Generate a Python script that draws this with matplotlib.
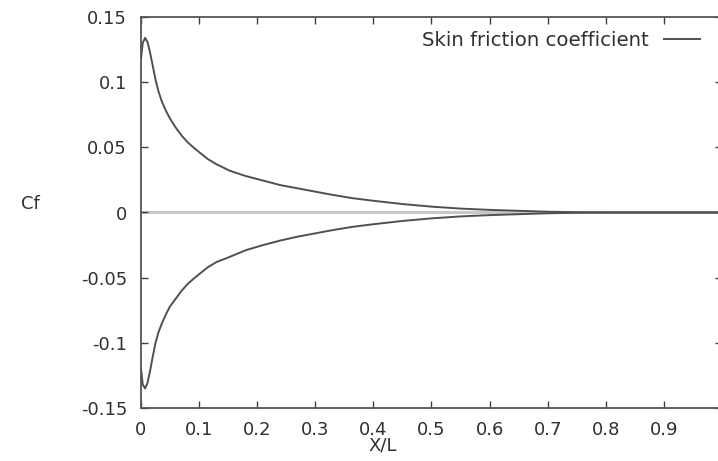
import matplotlib
matplotlib.use("Agg")
import matplotlib.pyplot as plt

# skin friction coefficient (upper and lower surface)
x_upper = [0.0, 0.003, 0.007, 0.011, 0.015, 0.02, 0.025, 0.03, 0.036, 0.043, 0.05, 0.06, 0.07,
           0.08, 0.09, 0.101, 0.115, 0.13, 0.153, 0.18, 0.21, 0.24, 0.27, 0.3, 0.33, 0.364,
           0.4, 0.45, 0.5, 0.55, 0.6, 0.65, 0.7, 0.75, 0.8, 0.9, 1.0]
cf_upper = [0.118, 0.130, 0.134, 0.131, 0.124, 0.113, 0.102, 0.093, 0.085, 0.078, 0.072, 0.065, 0.059,
            0.054, 0.050, 0.046, 0.041, 0.037, 0.032, 0.028, 0.0245, 0.021, 0.0185, 0.016, 0.0135, 0.011,
            0.009, 0.0065, 0.0045, 0.003, 0.002, 0.0013, 0.0006, 0.0002, 0.0, 0.0, 0.0]
x_lower = [0.0, 0.003, 0.007, 0.011, 0.015, 0.02, 0.025, 0.03, 0.036, 0.043, 0.05, 0.06, 0.07,
           0.08, 0.09, 0.101, 0.115, 0.13, 0.153, 0.18, 0.21, 0.24, 0.27, 0.3, 0.33, 0.364,
           0.4, 0.45, 0.5, 0.55, 0.6, 0.65, 0.7, 0.75, 0.8, 0.9, 1.0]
cf_lower = [-0.12, -0.132, -0.135, -0.131, -0.123, -0.111, -0.100, -0.092, -0.085, -0.078, -0.072, -0.066, -0.060,
            -0.055, -0.051, -0.047, -0.042, -0.038, -0.034, -0.029, -0.025, -0.0215, -0.0185, -0.016, -0.0135, -0.011,
            -0.009, -0.0065, -0.0045, -0.003, -0.002, -0.0013, -0.0006, -0.0002, 0.0, 0.0, 0.0]

xticks = [0, 0.1, 0.2, 0.3, 0.4, 0.5, 0.6, 0.7, 0.8, 0.9, 1.0]
xtick_labels = ["0", "0.1", "0.2", "0.3", "0.4", "0.5", "0.6", "0.7", "0.8", "0.9", ""]
yticks = [-0.15, -0.1, -0.05, 0, 0.05, 0.1, 0.15]
ytick_labels = ["-0.15", "-0.1", "-0.05", "0", "0.05", "0.1", "0.15"]

plt.rcParams["font.family"] = ["DejaVu Sans"]

fig = plt.figure(figsize=(7.18, 4.61), dpi=100)
ax = fig.add_axes([141 / 718, 53 / 461, 581 / 718, 391 / 461])

ax.axhline(0, color="#c8c8c8", lw=2.2, zorder=1)
line, = ax.plot(x_upper, cf_upper, color="#505050", lw=1.4, zorder=3, label="Skin friction coefficient")
ax.plot(x_lower, cf_lower, color="#505050", lw=1.4, zorder=3)

ax.set_xlim(0, 1)
ax.set_ylim(-0.15, 0.15)
ax.set_xticks(xticks)
ax.set_xticklabels(xtick_labels)
ax.set_yticks(yticks)
ax.set_yticklabels(ytick_labels)
ax.tick_params(direction="in", length=5, width=1, color="#404040", labelsize=13,
               labelcolor="#303030", top=True, right=True)
ax.tick_params(axis="x", pad=9)
ax.tick_params(axis="y", pad=10)

for side in ["left", "bottom", "top", "right"]:
    ax.spines[side].set_color("#555555")
    ax.spines[side].set_linewidth(1.3)

ax.set_xlabel("X/L", fontsize=13, color="#303030")
ax.xaxis.set_label_coords((383 - 141) / 581, -0.072)
ax.set_ylabel("Cf", fontsize=13, color="#303030", rotation=0)
ax.yaxis.set_label_coords(-(141 - 30) / 581, 0.5)

leg = ax.legend(handles=[line], loc="upper right", bbox_to_anchor=(559 / 581, 0.964),
                frameon=False, markerfirst=False, fontsize=14.2, handlelength=1.8,
                handletextpad=0.8, borderpad=0, borderaxespad=0)
for t in leg.get_texts():
    t.set_color("#303030")

fig.savefig("out.png", dpi=100)
